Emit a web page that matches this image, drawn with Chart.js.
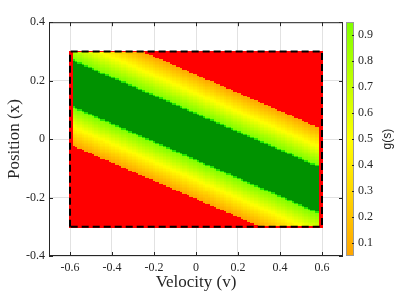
<!DOCTYPE html>
<html>
<head>
<meta charset="utf-8">
<script src="https://cdn.jsdelivr.net/npm/chart.js@4.4.1/dist/chart.umd.min.js"></script>
<style>
  html, body { margin: 0; padding: 0; background: #fff; }
</style>
</head>
<body>
<canvas id="chart" width="401" height="294"></canvas>
<script>
// axes ticks
const xTicks = [-0.6, -0.4, -0.2, 0, 0.2, 0.4, 0.6];
const yTicks = [-0.4, -0.2, 0, 0.2, 0.4];
const cbTicks = [0.1, 0.2, 0.3, 0.4, 0.5, 0.6, 0.7, 0.8, 0.9];

// grid of the surface (velocity columns, position rows)
const vMin = -0.6, vMax = 0.6, vStep = 0.01;
const pMin = -0.3, pMax = 0.3, pStep = 0.005;

// bands run along x + slope*v = offset
const slope = 0.31;
const offset = 0.008;
// g(s) read across the band, distance |s| in steps of 0.005
const gProfile = [1, 1, 1, 1, 1, 1, 1, 1, 1, 1, 1, 1, 1, 1, 1, 1,
                  0.98, 0.94, 0.905, 0.87, 0.835, 0.80, 0.765, 0.73, 0.695, 0.66,
                  0.625, 0.59, 0.555, 0.52, 0.485, 0.45, 0.415, 0.38, 0.345, 0.31,
                  0.275, 0.24, 0.205, 0.17, 0.135, 0.10, 0.065];
const profStep = 0.005;

// dashed box around the region
const boxV = [-0.6, -0.6, 0.6, 0.6, -0.6];
const boxX = [-0.3, 0.3, 0.3, -0.3, -0.3];

const vGrid = [];
for (let i = 0; Math.round(vMin / vStep) + i <= Math.round(vMax / vStep); i++) vGrid.push(vMin + i * vStep);
const pGrid = [];
for (let j = 0; Math.round(pMin / pStep) + j <= Math.round(pMax / pStep); j++) pGrid.push(pMin + j * pStep);

function cellValue(i, j) {
  const ni = vGrid.length, nj = pGrid.length;
  if (i <= 1 || i >= ni - 2 || j === 0 || j === nj - 1) return 0;
  const s = pGrid[j] + slope * vGrid[i] - offset;
  const k = Math.round(Math.abs(s) / profStep);
  return k < gProfile.length ? gProfile[k] : 0;
}

function colorFor(g) {
  if (g <= 0) return '#ff0000';
  if (g >= 1) return '#009200';
  if (g >= 0.97) return '#22e600';
  const t = Math.min(0.95, Math.max(0.05, g));
  let r, gr;
  if (t <= 0.5) { r = 255; gr = 165 + 90 * (t - 0.05) / 0.45; }
  else { r = 255 - 127 * (t - 0.5) / 0.45; gr = 255; }
  return `rgb(${Math.round(r)},${Math.round(gr)},0)`;
}

const fmt = v => (Math.abs(v) < 1e-9 ? '0' : v.toFixed(1));
const serif = 'Liberation Serif';
const axisColor = '#262626';

const heatmap = {
  id: 'heatmap',
  beforeDatasetsDraw(chart) {
    const { ctx, scales: { x, y } } = chart;
    ctx.save();
    for (let i = 0; i < vGrid.length; i++) {
      const x0 = Math.round(x.getPixelForValue(vGrid[i] - vStep / 2));
      const x1 = Math.round(x.getPixelForValue(vGrid[i] + vStep / 2));
      if (x1 <= x0) continue;
      for (let j = 0; j < pGrid.length; j++) {
        const y0 = Math.round(y.getPixelForValue(pGrid[j] - pStep / 2));
        const y1 = Math.round(y.getPixelForValue(pGrid[j] + pStep / 2));
        if (y0 <= y1) continue;
        ctx.fillStyle = colorFor(cellValue(i, j));
        ctx.fillRect(x0, y1, x1 - x0, y0 - y1);
      }
    }
    ctx.restore();
  },
  afterDraw(chart) {
    const { ctx, chartArea: a, scales: { x, y, cb } } = chart;
    ctx.save();
    // box and inward ticks
    ctx.strokeStyle = axisColor;
    ctx.lineWidth = 1;
    ctx.strokeRect(a.left + 0.5, a.top + 0.5, a.right - a.left - 1, a.bottom - a.top - 1);
    ctx.beginPath();
    xTicks.forEach(v => {
      const px = Math.round(x.getPixelForValue(v)) + 0.5;
      ctx.moveTo(px, a.bottom); ctx.lineTo(px, a.bottom - 4);
      ctx.moveTo(px, a.top); ctx.lineTo(px, a.top + 4);
    });
    yTicks.forEach(v => {
      const py = Math.round(y.getPixelForValue(v)) + 0.5;
      ctx.moveTo(a.left, py); ctx.lineTo(a.left + 4, py);
      ctx.moveTo(a.right, py); ctx.lineTo(a.right - 4, py);
    });
    ctx.stroke();

    // colorbar
    const bx = cb.left + 3, bw = 8;
    const top = Math.round(cb.getPixelForValue(cb.max));
    const bot = Math.round(cb.getPixelForValue(cb.min));
    for (let py = top; py < bot; py++) {
      ctx.fillStyle = colorFor(cb.getValueForPixel(py + 0.5));
      ctx.fillRect(bx, py, bw, 1);
    }
    ctx.strokeStyle = '#9a9a9a';
    ctx.strokeRect(bx + 0.5, top + 0.5, bw - 1, bot - top - 1);
    ctx.strokeStyle = axisColor;
    ctx.beginPath();
    cbTicks.forEach(v => {
      const py = Math.round(cb.getPixelForValue(v)) + 0.5;
      ctx.moveTo(bx + bw - 2, py); ctx.lineTo(bx + bw, py);
    });
    ctx.stroke();

    // colorbar label
    ctx.fillStyle = axisColor;
    ctx.font = '12px "Liberation Sans"';
    ctx.textAlign = 'center';
    ctx.textBaseline = 'middle';
    ctx.translate(388, (a.top + a.bottom) / 2);
    ctx.rotate(-Math.PI / 2);
    ctx.fillText('g(s)', 0, 0);
    ctx.restore();
  }
};

new Chart(document.getElementById('chart'), {
  type: 'line',
  data: {
    datasets: [{
      data: boxV.map((v, i) => ({ x: v, y: boxX[i] })),
      borderColor: '#000',
      borderWidth: 2,
      borderDash: [7, 4],
      pointRadius: 0,
      fill: false,
      tension: 0
    }]
  },
  options: {
    responsive: false,
    animation: false,
    layout: { padding: { top: 21, left: 0, right: 0, bottom: 0 } },
    plugins: { legend: { display: false }, tooltip: { enabled: false } },
    scales: {
      x: {
        type: 'linear', min: -0.7, max: 0.7,
        afterBuildTicks: s => { s.ticks = xTicks.map(v => ({ value: v })); },
        afterFit: s => { s.height = 38; },
        grid: { color: '#e2e2e2', drawTicks: false },
        border: { display: false },
        ticks: { callback: fmt, padding: 5, color: axisColor, font: { family: serif, size: 12 }, maxRotation: 0 },
        title: { display: true, text: 'Velocity (v)', color: axisColor, font: { family: serif, size: 17 }, padding: { top: 0, bottom: 1 } }
      },
      y: {
        type: 'linear', min: -0.4, max: 0.4,
        afterBuildTicks: s => { s.ticks = yTicks.map(v => ({ value: v })); },
        afterFit: s => { s.width = 49; },
        grid: { color: '#e2e2e2', drawTicks: false },
        border: { display: false },
        ticks: { callback: fmt, padding: 4, color: axisColor, font: { family: serif, size: 12 } },
        title: { display: true, text: 'Position (x)', color: axisColor, font: { family: serif, size: 17 }, padding: { top: 4, bottom: 0 } }
      },
      cb: {
        type: 'linear', axis: 'y', position: 'right', min: 0.05, max: 0.95,
        afterBuildTicks: s => { s.ticks = cbTicks.map(v => ({ value: v })); },
        afterFit: s => { s.width = 58; },
        grid: { display: false, drawTicks: false },
        border: { display: false },
        ticks: { callback: fmt, padding: 15, color: axisColor, font: { family: serif, size: 12 } }
      }
    }
  },
  plugins: [heatmap]
});
</script>
</body>
</html>
